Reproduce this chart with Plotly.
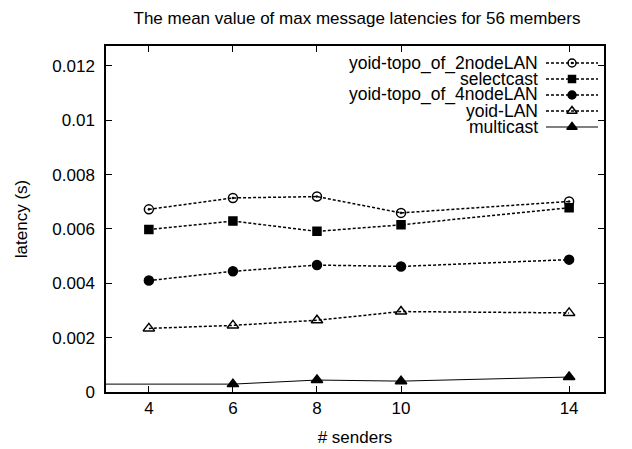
import plotly.graph_objects as go

# Mean of the max message latency (s) per number of senders
senders = [4, 6, 8, 10, 14]
yoid_topo_2node = [0.00672, 0.00714, 0.00719, 0.00659, 0.00701]
selectcast = [0.00598, 0.00629, 0.00591, 0.00615, 0.00678]
yoid_topo_4node = [0.00410, 0.00444, 0.00467, 0.00462, 0.00487]
yoid_lan = [0.00234, 0.00245, 0.00264, 0.00296, 0.00291]
multicast_senders = [2, 6, 8, 10, 14]
multicast = [0.00029, 0.00029, 0.00044, 0.00040, 0.00055]

x_ticks = [4, 6, 8, 10, 14]
y_ticks = [0, 0.002, 0.004, 0.006, 0.008, 0.010, 0.012]
y_tick_text = ["0", "0.002", "0.004", "0.006", "0.008", "0.01", "0.012"]

FONT = "Liberation Sans, Arial, Helvetica, sans-serif"
DOT = "3px,2px"

series = [
    ("yoid-topo_of_2nodeLAN", senders, yoid_topo_2node, "circle-open-dot", 9, DOT, 1.5),
    ("selectcast", senders, selectcast, "square", 8, DOT, 1.5),
    ("yoid-topo_of_4nodeLAN", senders, yoid_topo_4node, "circle", 9, DOT, 1.5),
    ("yoid-LAN", senders, yoid_lan, "triangle-up-open", 10, DOT, 1.5),
    ("multicast", multicast_senders, multicast, "triangle-up", 10, "solid", 1.0),
]

fig = go.Figure()
for name, xs, ys, sym, size, dash, lw in series:
    fig.add_trace(go.Scatter(
        x=xs, y=ys, name=name, mode="lines+markers",
        line=dict(color="black", width=lw, dash=dash),
        marker=dict(symbol=sym, size=size, color="black",
                    line=dict(color="black", width=1.5)),
        showlegend=False,
    ))

# Key in the upper right: label text on the left, line sample on the right
L, R, T, B = 106, 604, 46, 392
W, H = R - L, B - T
row0, row_step = 63, 16.0
text_right, samp_left, samp_right = 540, 546, 598
for i, (name, xs, ys, sym, size, dash, lw) in enumerate(series):
    py = row0 + i * row_step
    fy = (B - py) / H
    fig.add_trace(go.Scatter(
        x=[(samp_left - L) / W, (samp_right - L) / W], y=[fy, fy],
        xaxis="x2", yaxis="y2", mode="lines",
        line=dict(color="black", width=lw, dash=dash),
        showlegend=False, hoverinfo="skip", cliponaxis=False,
    ))
    fig.add_trace(go.Scatter(
        x=[((samp_left + samp_right) / 2 - L) / W], y=[fy],
        xaxis="x2", yaxis="y2", mode="markers",
        marker=dict(symbol=sym, size=size - 1, color="black",
                    line=dict(color="black", width=1.5)),
        showlegend=False, hoverinfo="skip", cliponaxis=False,
    ))
    fig.add_annotation(
        x=(text_right - L) / W, y=fy, xref="paper", yref="paper",
        text=name, showarrow=False, xanchor="right", yanchor="middle",
        font=dict(family=FONT, size=17.5, color="black"),
    )

axis_common = dict(
    showline=True, linecolor="black", linewidth=1.5, mirror="allticks",
    ticks="inside", ticklen=6, tickcolor="black", tickwidth=1.2,
    showgrid=False, zeroline=False, automargin=False,
    tickfont=dict(family=FONT, size=17, color="black"),
)

fig.update_layout(
    width=632, height=449,
    margin=dict(l=L, r=632 - R, t=T, b=449 - B),
    paper_bgcolor="white", plot_bgcolor="white",
    title=dict(text="The mean value of max message latencies for 56 members",
               x=357 / 632, xanchor="center", y=1 - 18 / 449, yanchor="middle",
               font=dict(family=FONT, size=17, color="black")),
    xaxis=dict(range=[2.98, 14.83], tickvals=x_ticks, ticktext=[str(v) for v in x_ticks],
               title=dict(text="# senders", font=dict(family=FONT, size=17, color="black"),
                          standoff=14),
               **axis_common),
    yaxis=dict(range=[0, 0.01273], tickvals=y_ticks, ticktext=y_tick_text,
               title=dict(text="latency (s)", font=dict(family=FONT, size=17, color="black"),
                          standoff=20),
               ticklabelstandoff=6,
               **axis_common),
    xaxis2=dict(overlaying="x", range=[0, 1], visible=False),
    yaxis2=dict(overlaying="y", range=[0, 1], visible=False),
    showlegend=False,
)

fig.write_html("out.html")
